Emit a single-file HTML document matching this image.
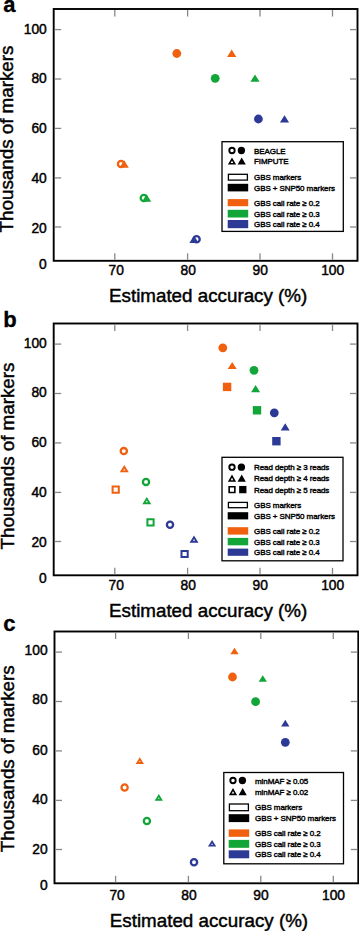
<!DOCTYPE html>
<html><head><meta charset="utf-8"><style>
html,body{margin:0;padding:0;background:#fff;width:359px;height:931px;overflow:hidden}
svg{display:block}
</style></head><body>
<svg width="359" height="931" viewBox="0 0 359 931">
<rect width="359" height="931" fill="#fff"/>
<rect x="53.7" y="9" width="303.8" height="251.8" fill="none" stroke="#000" stroke-width="1.9"/>
<line x1="114.8" y1="259.8" x2="114.8" y2="253.3" stroke="#888" stroke-width="1.3"/>
<line x1="114.8" y1="10" x2="114.8" y2="16.5" stroke="#888" stroke-width="1.3"/>
<line x1="187.6" y1="259.8" x2="187.6" y2="253.3" stroke="#888" stroke-width="1.3"/>
<line x1="187.6" y1="10" x2="187.6" y2="16.5" stroke="#888" stroke-width="1.3"/>
<line x1="260.0" y1="259.8" x2="260.0" y2="253.3" stroke="#888" stroke-width="1.3"/>
<line x1="260.0" y1="10" x2="260.0" y2="16.5" stroke="#888" stroke-width="1.3"/>
<line x1="332.5" y1="259.8" x2="332.5" y2="253.3" stroke="#888" stroke-width="1.3"/>
<line x1="332.5" y1="10" x2="332.5" y2="16.5" stroke="#888" stroke-width="1.3"/>
<line x1="54.7" y1="29.6" x2="61.2" y2="29.6" stroke="#888" stroke-width="1.3"/>
<line x1="356.5" y1="29.6" x2="350.0" y2="29.6" stroke="#888" stroke-width="1.3"/>
<line x1="54.7" y1="79.0" x2="61.2" y2="79.0" stroke="#888" stroke-width="1.3"/>
<line x1="356.5" y1="79.0" x2="350.0" y2="79.0" stroke="#888" stroke-width="1.3"/>
<line x1="54.7" y1="128.4" x2="61.2" y2="128.4" stroke="#888" stroke-width="1.3"/>
<line x1="356.5" y1="128.4" x2="350.0" y2="128.4" stroke="#888" stroke-width="1.3"/>
<line x1="54.7" y1="177.9" x2="61.2" y2="177.9" stroke="#888" stroke-width="1.3"/>
<line x1="356.5" y1="177.9" x2="350.0" y2="177.9" stroke="#888" stroke-width="1.3"/>
<line x1="54.7" y1="227.0" x2="61.2" y2="227.0" stroke="#888" stroke-width="1.3"/>
<line x1="356.5" y1="227.0" x2="350.0" y2="227.0" stroke="#888" stroke-width="1.3"/>
<text x="46.8" y="33.6" font-family="Liberation Sans, sans-serif" stroke="#000" font-size="13.8" stroke-width="0.45" text-anchor="end">100</text>
<text x="46.8" y="83.0" font-family="Liberation Sans, sans-serif" stroke="#000" font-size="13.8" stroke-width="0.45" text-anchor="end">80</text>
<text x="46.8" y="133.3" font-family="Liberation Sans, sans-serif" stroke="#000" font-size="13.8" stroke-width="0.45" text-anchor="end">60</text>
<text x="46.8" y="183.0" font-family="Liberation Sans, sans-serif" stroke="#000" font-size="13.8" stroke-width="0.45" text-anchor="end">40</text>
<text x="46.8" y="232.70000000000002" font-family="Liberation Sans, sans-serif" stroke="#000" font-size="13.8" stroke-width="0.45" text-anchor="end">20</text>
<text x="46.8" y="268.90000000000003" font-family="Liberation Sans, sans-serif" stroke="#000" font-size="13.8" stroke-width="0.45" text-anchor="end">0</text>
<text x="116.3" y="275.2" font-family="Liberation Sans, sans-serif" stroke="#000" font-size="13.8" stroke-width="0.45" text-anchor="middle">70</text>
<text x="188.2" y="275.2" font-family="Liberation Sans, sans-serif" stroke="#000" font-size="13.8" stroke-width="0.45" text-anchor="middle">80</text>
<text x="260.2" y="275.2" font-family="Liberation Sans, sans-serif" stroke="#000" font-size="13.8" stroke-width="0.45" text-anchor="middle">90</text>
<text x="332.7" y="275.2" font-family="Liberation Sans, sans-serif" stroke="#000" font-size="13.8" stroke-width="0.45" text-anchor="middle">100</text>
<text x="109.0" y="301.7" font-family="Liberation Sans, sans-serif" stroke="#000" font-size="18.8" stroke-width="0.45">Estimated accuracy (%)</text>
<text transform="translate(13.0,232.4) rotate(-90)" x="0" y="0" font-family="Liberation Sans, sans-serif" stroke="#000" font-size="18.8" stroke-width="0.45">Thousands of markers</text>
<text x="3.3" y="12.1" font-family="Liberation Sans, sans-serif" stroke="#000" font-size="22" font-weight="bold" stroke-width="0.3">a</text>
<circle cx="176.8" cy="53.5" r="4.4" fill="#F0600E"/>
<path d="M231.70,49.52 L227.10,56.88 L236.30,56.88 Z" fill="#F0600E"/>
<circle cx="215.2" cy="78.3" r="4.4" fill="#12A538"/>
<path d="M255.00,74.42 L250.40,81.78 L259.60,81.78 Z" fill="#12A538"/>
<circle cx="258.4" cy="119" r="4.4" fill="#2C3A95"/>
<path d="M284.50,115.22 L279.90,122.58 L289.10,122.58 Z" fill="#2C3A95"/>
<path d="M116.75,164.00 a4.25,4.25 0 1,0 8.50,0 a4.25,4.25 0 1,0 -8.50,0 Z M119.05,164.00 a1.95,1.95 0 1,0 3.90,0 a1.95,1.95 0 1,0 -3.90,0 Z" fill="#F0600E" fill-rule="evenodd"/>
<path d="M124.20,160.32 L119.60,167.68 L128.80,167.68 Z M124.20,163.90 L123.03,165.78 L125.37,165.78 Z" fill="#F0600E" fill-rule="evenodd"/>
<path d="M139.55,198.00 a4.25,4.25 0 1,0 8.50,0 a4.25,4.25 0 1,0 -8.50,0 Z M141.85,198.00 a1.95,1.95 0 1,0 3.90,0 a1.95,1.95 0 1,0 -3.90,0 Z" fill="#12A538" fill-rule="evenodd"/>
<path d="M146.60,194.32 L142.00,201.68 L151.20,201.68 Z M146.60,197.90 L145.43,199.78 L147.77,199.78 Z" fill="#12A538" fill-rule="evenodd"/>
<path d="M194.00,235.52 L189.40,242.88 L198.60,242.88 Z M194.00,239.10 L192.83,240.98 L195.17,240.98 Z" fill="#2C3A95" fill-rule="evenodd"/>
<path d="M192.35,239.30 a4.25,4.25 0 1,0 8.50,0 a4.25,4.25 0 1,0 -8.50,0 Z M194.65,239.30 a1.95,1.95 0 1,0 3.90,0 a1.95,1.95 0 1,0 -3.90,0 Z" fill="#2C3A95" fill-rule="evenodd"/>
<rect x="222" y="141.7" width="121.30000000000001" height="89.70000000000002" fill="#fff" stroke="#000" stroke-width="1.3"/>
<g transform="translate(0,0)">
<path d="M228.35,150.50 a3.65,3.65 0 1,0 7.30,0 a3.65,3.65 0 1,0 -7.30,0 Z M230.25,150.50 a1.75,1.75 0 1,0 3.50,0 a1.75,1.75 0 1,0 -3.50,0 Z" fill="#000" fill-rule="evenodd"/>
<circle cx="241.4" cy="150.5" r="3.65" fill="#000"/>
<text x="254" y="153.55" font-family="Liberation Sans, sans-serif" stroke="#000" font-size="8.0" stroke-width="0.4" letter-spacing="-0.08">BEAGLE</text>
<path d="M232.00,157.39 L227.90,164.61 L236.10,164.61 Z M232.00,160.63 L230.65,163.01 L233.35,163.01 Z" fill="#000" fill-rule="evenodd"/>
<path d="M241.70,157.39 L237.60,164.61 L245.80,164.61 Z" fill="#000"/>
<text x="254" y="164.05" font-family="Liberation Sans, sans-serif" stroke="#000" font-size="8.0" stroke-width="0.4" letter-spacing="-0.08">FIMPUTE</text>
<rect x="228.4" y="174.29999999999998" width="19" height="5.8" fill="#fff" stroke="#000" stroke-width="1.3"/>
<text x="254" y="180.25" font-family="Liberation Sans, sans-serif" stroke="#000" font-size="8.0" stroke-width="0.4" letter-spacing="-0.08">GBS markers</text>
<rect x="227.7" y="183.8" width="20.5" height="7.599999999999994" fill="#000"/>
<text x="254" y="190.65000000000003" font-family="Liberation Sans, sans-serif" stroke="#000" font-size="8.0" stroke-width="0.4" letter-spacing="-0.08">GBS + SNP50 markers</text>
<rect x="227.7" y="199.1" width="20.5" height="7.099999999999994" fill="#F0600E"/>
<text x="254" y="205.7" font-family="Liberation Sans, sans-serif" stroke="#000" font-size="8.0" stroke-width="0.4" letter-spacing="-0.08">GBS call rate &#8805; 0.2</text>
<rect x="227.7" y="209.8" width="20.5" height="7.699999999999989" fill="#12A538"/>
<text x="254" y="216.70000000000002" font-family="Liberation Sans, sans-serif" stroke="#000" font-size="8.0" stroke-width="0.4" letter-spacing="-0.08">GBS call rate &#8805; 0.3</text>
<rect x="227.7" y="220" width="20.5" height="8.199999999999989" fill="#2C3A95"/>
<text x="254" y="227.15" font-family="Liberation Sans, sans-serif" stroke="#000" font-size="8.0" stroke-width="0.4" letter-spacing="-0.08">GBS call rate &#8805; 0.4</text>
</g>
<rect x="53.7" y="323.5" width="303.8" height="251.79999999999995" fill="none" stroke="#000" stroke-width="1.9"/>
<line x1="114.8" y1="574.3" x2="114.8" y2="567.8" stroke="#888" stroke-width="1.3"/>
<line x1="114.8" y1="324.5" x2="114.8" y2="331.0" stroke="#888" stroke-width="1.3"/>
<line x1="187.6" y1="574.3" x2="187.6" y2="567.8" stroke="#888" stroke-width="1.3"/>
<line x1="187.6" y1="324.5" x2="187.6" y2="331.0" stroke="#888" stroke-width="1.3"/>
<line x1="260.0" y1="574.3" x2="260.0" y2="567.8" stroke="#888" stroke-width="1.3"/>
<line x1="260.0" y1="324.5" x2="260.0" y2="331.0" stroke="#888" stroke-width="1.3"/>
<line x1="332.5" y1="574.3" x2="332.5" y2="567.8" stroke="#888" stroke-width="1.3"/>
<line x1="332.5" y1="324.5" x2="332.5" y2="331.0" stroke="#888" stroke-width="1.3"/>
<line x1="54.7" y1="344.1" x2="61.2" y2="344.1" stroke="#888" stroke-width="1.3"/>
<line x1="356.5" y1="344.1" x2="350.0" y2="344.1" stroke="#888" stroke-width="1.3"/>
<line x1="54.7" y1="393.5" x2="61.2" y2="393.5" stroke="#888" stroke-width="1.3"/>
<line x1="356.5" y1="393.5" x2="350.0" y2="393.5" stroke="#888" stroke-width="1.3"/>
<line x1="54.7" y1="442.9" x2="61.2" y2="442.9" stroke="#888" stroke-width="1.3"/>
<line x1="356.5" y1="442.9" x2="350.0" y2="442.9" stroke="#888" stroke-width="1.3"/>
<line x1="54.7" y1="492.4" x2="61.2" y2="492.4" stroke="#888" stroke-width="1.3"/>
<line x1="356.5" y1="492.4" x2="350.0" y2="492.4" stroke="#888" stroke-width="1.3"/>
<line x1="54.7" y1="541.5" x2="61.2" y2="541.5" stroke="#888" stroke-width="1.3"/>
<line x1="356.5" y1="541.5" x2="350.0" y2="541.5" stroke="#888" stroke-width="1.3"/>
<text x="46.8" y="347.5" font-family="Liberation Sans, sans-serif" stroke="#000" font-size="13.8" stroke-width="0.45" text-anchor="end">100</text>
<text x="46.8" y="396.9" font-family="Liberation Sans, sans-serif" stroke="#000" font-size="13.8" stroke-width="0.45" text-anchor="end">80</text>
<text x="46.8" y="447.2" font-family="Liberation Sans, sans-serif" stroke="#000" font-size="13.8" stroke-width="0.45" text-anchor="end">60</text>
<text x="46.8" y="496.9" font-family="Liberation Sans, sans-serif" stroke="#000" font-size="13.8" stroke-width="0.45" text-anchor="end">40</text>
<text x="46.8" y="546.5999999999999" font-family="Liberation Sans, sans-serif" stroke="#000" font-size="13.8" stroke-width="0.45" text-anchor="end">20</text>
<text x="46.8" y="582.8" font-family="Liberation Sans, sans-serif" stroke="#000" font-size="13.8" stroke-width="0.45" text-anchor="end">0</text>
<text x="116.3" y="589.7" font-family="Liberation Sans, sans-serif" stroke="#000" font-size="13.8" stroke-width="0.45" text-anchor="middle">70</text>
<text x="188.2" y="589.7" font-family="Liberation Sans, sans-serif" stroke="#000" font-size="13.8" stroke-width="0.45" text-anchor="middle">80</text>
<text x="260.2" y="589.7" font-family="Liberation Sans, sans-serif" stroke="#000" font-size="13.8" stroke-width="0.45" text-anchor="middle">90</text>
<text x="332.7" y="589.7" font-family="Liberation Sans, sans-serif" stroke="#000" font-size="13.8" stroke-width="0.45" text-anchor="middle">100</text>
<text x="109.0" y="616.9" font-family="Liberation Sans, sans-serif" stroke="#000" font-size="18.8" stroke-width="0.45">Estimated accuracy (%)</text>
<text transform="translate(13.5,549.4) rotate(-90)" x="0" y="0" font-family="Liberation Sans, sans-serif" stroke="#000" font-size="18.8" stroke-width="0.45">Thousands of markers</text>
<text x="3.3" y="326.9" font-family="Liberation Sans, sans-serif" stroke="#000" font-size="22" font-weight="bold" stroke-width="0.3">b</text>
<circle cx="222.8" cy="347.8" r="4.4" fill="#F0600E"/>
<path d="M232.20,361.90 L227.70,369.10 L236.70,369.10 Z" fill="#F0600E"/>
<rect x="222.90" y="382.70" width="8.4" height="8.4" fill="#F0600E"/>
<circle cx="254" cy="370.3" r="4.4" fill="#12A538"/>
<path d="M255.60,385.00 L251.10,392.20 L260.10,392.20 Z" fill="#12A538"/>
<rect x="252.80" y="406.10" width="8.4" height="8.4" fill="#12A538"/>
<circle cx="274.3" cy="412.8" r="4.4" fill="#2C3A95"/>
<path d="M285.20,423.20 L280.70,430.40 L289.70,430.40 Z" fill="#2C3A95"/>
<rect x="272.20" y="437.00" width="8.4" height="8.4" fill="#2C3A95"/>
<path d="M119.55,451.10 a4.25,4.25 0 1,0 8.50,0 a4.25,4.25 0 1,0 -8.50,0 Z M121.85,451.10 a1.95,1.95 0 1,0 3.90,0 a1.95,1.95 0 1,0 -3.90,0 Z" fill="#F0600E" fill-rule="evenodd"/>
<path d="M124.30,465.10 L119.80,472.30 L128.80,472.30 Z M124.30,468.68 L123.23,470.40 L125.37,470.40 Z" fill="#F0600E" fill-rule="evenodd"/>
<path d="M111.60,485.50 h8.20 v8.20 h-8.20 Z M113.60,487.50 h4.20 v4.20 h-4.20 Z" fill="#F0600E" fill-rule="evenodd"/>
<path d="M141.75,481.90 a4.25,4.25 0 1,0 8.50,0 a4.25,4.25 0 1,0 -8.50,0 Z M144.05,481.90 a1.95,1.95 0 1,0 3.90,0 a1.95,1.95 0 1,0 -3.90,0 Z" fill="#12A538" fill-rule="evenodd"/>
<path d="M146.80,497.00 L142.30,504.20 L151.30,504.20 Z M146.80,500.58 L145.73,502.30 L147.87,502.30 Z" fill="#12A538" fill-rule="evenodd"/>
<path d="M146.40,518.20 h8.20 v8.20 h-8.20 Z M148.40,520.20 h4.20 v4.20 h-4.20 Z" fill="#12A538" fill-rule="evenodd"/>
<path d="M165.75,524.80 a4.25,4.25 0 1,0 8.50,0 a4.25,4.25 0 1,0 -8.50,0 Z M168.05,524.80 a1.95,1.95 0 1,0 3.90,0 a1.95,1.95 0 1,0 -3.90,0 Z" fill="#2C3A95" fill-rule="evenodd"/>
<path d="M194.00,535.50 L189.50,542.70 L198.50,542.70 Z M194.00,539.08 L192.93,540.80 L195.07,540.80 Z" fill="#2C3A95" fill-rule="evenodd"/>
<path d="M180.50,549.90 h8.20 v8.20 h-8.20 Z M182.50,551.90 h4.20 v4.20 h-4.20 Z" fill="#2C3A95" fill-rule="evenodd"/>
<rect x="222" y="457.3" width="121" height="103.49999999999994" fill="#fff" stroke="#000" stroke-width="1.3"/>
<g transform="translate(0,0)">
<path d="M228.35,467.20 a3.65,3.65 0 1,0 7.30,0 a3.65,3.65 0 1,0 -7.30,0 Z M230.25,467.20 a1.75,1.75 0 1,0 3.50,0 a1.75,1.75 0 1,0 -3.50,0 Z" fill="#000" fill-rule="evenodd"/>
<circle cx="241.4" cy="467.2" r="3.65" fill="#000"/>
<text x="254" y="470.25" font-family="Liberation Sans, sans-serif" stroke="#000" font-size="8.0" stroke-width="0.4" letter-spacing="-0.08">Read depth &#8805; 3 reads</text>
<path d="M232.00,474.59 L227.90,481.81 L236.10,481.81 Z M232.00,477.83 L230.65,480.21 L233.35,480.21 Z" fill="#000" fill-rule="evenodd"/>
<path d="M241.70,474.59 L237.60,481.81 L245.80,481.81 Z" fill="#000"/>
<text x="254" y="481.25" font-family="Liberation Sans, sans-serif" stroke="#000" font-size="8.0" stroke-width="0.4" letter-spacing="-0.08">Read depth &#8805; 4 reads</text>
<path d="M228.35,485.95 h7.30 v7.30 h-7.30 Z M229.95,487.55 h4.10 v4.10 h-4.10 Z" fill="#000" fill-rule="evenodd"/>
<rect x="239.15" y="485.95" width="7.3" height="7.3" fill="#000"/>
<text x="254" y="492.65000000000003" font-family="Liberation Sans, sans-serif" stroke="#000" font-size="8.0" stroke-width="0.4" letter-spacing="-0.08">Read depth &#8805; 5 reads</text>
<rect x="228.4" y="502.40000000000003" width="19" height="5.3" fill="#fff" stroke="#000" stroke-width="1.3"/>
<text x="254" y="508.1" font-family="Liberation Sans, sans-serif" stroke="#000" font-size="8.0" stroke-width="0.4" letter-spacing="-0.08">GBS markers</text>
<rect x="227.7" y="512.2" width="20.5" height="7.199999999999932" fill="#000"/>
<text x="254" y="518.8499999999999" font-family="Liberation Sans, sans-serif" stroke="#000" font-size="8.0" stroke-width="0.4" letter-spacing="-0.08">GBS + SNP50 markers</text>
<rect x="227.7" y="527.2" width="20.5" height="7.399999999999977" fill="#F0600E"/>
<text x="254" y="533.95" font-family="Liberation Sans, sans-serif" stroke="#000" font-size="8.0" stroke-width="0.4" letter-spacing="-0.08">GBS call rate &#8805; 0.2</text>
<rect x="227.7" y="537.9" width="20.5" height="7.399999999999977" fill="#12A538"/>
<text x="254" y="544.6499999999999" font-family="Liberation Sans, sans-serif" stroke="#000" font-size="8.0" stroke-width="0.4" letter-spacing="-0.08">GBS call rate &#8805; 0.3</text>
<rect x="227.7" y="548.6" width="20.5" height="7.199999999999932" fill="#2C3A95"/>
<text x="254" y="555.25" font-family="Liberation Sans, sans-serif" stroke="#000" font-size="8.0" stroke-width="0.4" letter-spacing="-0.08">GBS call rate &#8805; 0.4</text>
</g>
<rect x="54.5" y="631.5" width="303.8" height="251.79999999999995" fill="none" stroke="#000" stroke-width="1.9"/>
<line x1="115.6" y1="882.3" x2="115.6" y2="875.8" stroke="#888" stroke-width="1.3"/>
<line x1="115.6" y1="632.5" x2="115.6" y2="639.0" stroke="#888" stroke-width="1.3"/>
<line x1="188.4" y1="882.3" x2="188.4" y2="875.8" stroke="#888" stroke-width="1.3"/>
<line x1="188.4" y1="632.5" x2="188.4" y2="639.0" stroke="#888" stroke-width="1.3"/>
<line x1="260.8" y1="882.3" x2="260.8" y2="875.8" stroke="#888" stroke-width="1.3"/>
<line x1="260.8" y1="632.5" x2="260.8" y2="639.0" stroke="#888" stroke-width="1.3"/>
<line x1="333.3" y1="882.3" x2="333.3" y2="875.8" stroke="#888" stroke-width="1.3"/>
<line x1="333.3" y1="632.5" x2="333.3" y2="639.0" stroke="#888" stroke-width="1.3"/>
<line x1="55.5" y1="652.1" x2="62.0" y2="652.1" stroke="#888" stroke-width="1.3"/>
<line x1="357.3" y1="652.1" x2="350.8" y2="652.1" stroke="#888" stroke-width="1.3"/>
<line x1="55.5" y1="701.5" x2="62.0" y2="701.5" stroke="#888" stroke-width="1.3"/>
<line x1="357.3" y1="701.5" x2="350.8" y2="701.5" stroke="#888" stroke-width="1.3"/>
<line x1="55.5" y1="750.9" x2="62.0" y2="750.9" stroke="#888" stroke-width="1.3"/>
<line x1="357.3" y1="750.9" x2="350.8" y2="750.9" stroke="#888" stroke-width="1.3"/>
<line x1="55.5" y1="800.4" x2="62.0" y2="800.4" stroke="#888" stroke-width="1.3"/>
<line x1="357.3" y1="800.4" x2="350.8" y2="800.4" stroke="#888" stroke-width="1.3"/>
<line x1="55.5" y1="849.5" x2="62.0" y2="849.5" stroke="#888" stroke-width="1.3"/>
<line x1="357.3" y1="849.5" x2="350.8" y2="849.5" stroke="#888" stroke-width="1.3"/>
<text x="47.599999999999994" y="654.8" font-family="Liberation Sans, sans-serif" stroke="#000" font-size="13.8" stroke-width="0.45" text-anchor="end">100</text>
<text x="47.599999999999994" y="704.2" font-family="Liberation Sans, sans-serif" stroke="#000" font-size="13.8" stroke-width="0.45" text-anchor="end">80</text>
<text x="47.599999999999994" y="754.5" font-family="Liberation Sans, sans-serif" stroke="#000" font-size="13.8" stroke-width="0.45" text-anchor="end">60</text>
<text x="47.599999999999994" y="804.2" font-family="Liberation Sans, sans-serif" stroke="#000" font-size="13.8" stroke-width="0.45" text-anchor="end">40</text>
<text x="47.599999999999994" y="853.9" font-family="Liberation Sans, sans-serif" stroke="#000" font-size="13.8" stroke-width="0.45" text-anchor="end">20</text>
<text x="47.599999999999994" y="890.1" font-family="Liberation Sans, sans-serif" stroke="#000" font-size="13.8" stroke-width="0.45" text-anchor="end">0</text>
<text x="117.1" y="899.7" font-family="Liberation Sans, sans-serif" stroke="#000" font-size="13.8" stroke-width="0.45" text-anchor="middle">70</text>
<text x="189.0" y="899.7" font-family="Liberation Sans, sans-serif" stroke="#000" font-size="13.8" stroke-width="0.45" text-anchor="middle">80</text>
<text x="261.0" y="899.7" font-family="Liberation Sans, sans-serif" stroke="#000" font-size="13.8" stroke-width="0.45" text-anchor="middle">90</text>
<text x="333.5" y="899.7" font-family="Liberation Sans, sans-serif" stroke="#000" font-size="13.8" stroke-width="0.45" text-anchor="middle">100</text>
<text x="109.8" y="926.9" font-family="Liberation Sans, sans-serif" stroke="#000" font-size="18.8" stroke-width="0.45">Estimated accuracy (%)</text>
<text transform="translate(13.7,852.2) rotate(-90)" x="0" y="0" font-family="Liberation Sans, sans-serif" stroke="#000" font-size="18.8" stroke-width="0.45">Thousands of markers</text>
<text x="3.3" y="631.3" font-family="Liberation Sans, sans-serif" stroke="#000" font-size="22" font-weight="bold" stroke-width="0.3">c</text>
<path d="M234.50,647.73 L230.35,654.37 L238.65,654.37 Z" fill="#F0600E"/>
<circle cx="232.5" cy="677" r="4.4" fill="#F0600E"/>
<path d="M262.80,675.13 L258.65,681.77 L266.95,681.77 Z" fill="#12A538"/>
<circle cx="255.6" cy="701.7" r="4.4" fill="#12A538"/>
<path d="M285.30,719.83 L281.15,726.47 L289.45,726.47 Z" fill="#2C3A95"/>
<circle cx="285.3" cy="742.3" r="4.4" fill="#2C3A95"/>
<path d="M139.80,757.28 L135.65,763.92 L143.95,763.92 Z M139.80,760.68 L138.90,762.12 L140.70,762.12 Z" fill="#F0600E" fill-rule="evenodd"/>
<path d="M120.35,787.50 a4.25,4.25 0 1,0 8.50,0 a4.25,4.25 0 1,0 -8.50,0 Z M122.65,787.50 a1.95,1.95 0 1,0 3.90,0 a1.95,1.95 0 1,0 -3.90,0 Z" fill="#F0600E" fill-rule="evenodd"/>
<path d="M158.80,794.03 L154.65,800.67 L162.95,800.67 Z M158.80,797.43 L157.90,798.87 L159.70,798.87 Z" fill="#12A538" fill-rule="evenodd"/>
<path d="M142.65,821.00 a4.25,4.25 0 1,0 8.50,0 a4.25,4.25 0 1,0 -8.50,0 Z M144.95,821.00 a1.95,1.95 0 1,0 3.90,0 a1.95,1.95 0 1,0 -3.90,0 Z" fill="#12A538" fill-rule="evenodd"/>
<path d="M212.10,839.93 L207.95,846.57 L216.25,846.57 Z M212.10,843.33 L211.20,844.77 L213.00,844.77 Z" fill="#2C3A95" fill-rule="evenodd"/>
<path d="M189.75,862.30 a4.25,4.25 0 1,0 8.50,0 a4.25,4.25 0 1,0 -8.50,0 Z M192.05,862.30 a1.95,1.95 0 1,0 3.90,0 a1.95,1.95 0 1,0 -3.90,0 Z" fill="#2C3A95" fill-rule="evenodd"/>
<rect x="223.8" y="772.5" width="119.69999999999999" height="91.29999999999995" fill="#fff" stroke="#000" stroke-width="1.3"/>
<g transform="translate(1.0,0)">
<path d="M228.35,780.50 a3.65,3.65 0 1,0 7.30,0 a3.65,3.65 0 1,0 -7.30,0 Z M230.25,780.50 a1.75,1.75 0 1,0 3.50,0 a1.75,1.75 0 1,0 -3.50,0 Z" fill="#000" fill-rule="evenodd"/>
<circle cx="241.4" cy="780.5" r="3.65" fill="#000"/>
<text x="254" y="783.55" font-family="Liberation Sans, sans-serif" stroke="#000" font-size="8.0" stroke-width="0.4" letter-spacing="-0.08">minMAF &#8805; 0.05</text>
<path d="M232.00,787.99 L227.90,795.21 L236.10,795.21 Z M232.00,791.23 L230.65,793.61 L233.35,793.61 Z" fill="#000" fill-rule="evenodd"/>
<path d="M241.70,787.99 L237.60,795.21 L245.80,795.21 Z" fill="#000"/>
<text x="254" y="794.65" font-family="Liberation Sans, sans-serif" stroke="#000" font-size="8.0" stroke-width="0.4" letter-spacing="-0.08">minMAF &#8805; 0.02</text>
<rect x="228.4" y="804.0" width="19" height="6.699999999999977" fill="#fff" stroke="#000" stroke-width="1.3"/>
<text x="254" y="810.3999999999999" font-family="Liberation Sans, sans-serif" stroke="#000" font-size="8.0" stroke-width="0.4" letter-spacing="-0.08">GBS markers</text>
<rect x="227.7" y="814.2" width="20.5" height="7.899999999999977" fill="#000"/>
<text x="254" y="821.2" font-family="Liberation Sans, sans-serif" stroke="#000" font-size="8.0" stroke-width="0.4" letter-spacing="-0.08">GBS + SNP50 markers</text>
<rect x="227.7" y="829.4" width="20.5" height="7.399999999999977" fill="#F0600E"/>
<text x="254" y="836.1499999999999" font-family="Liberation Sans, sans-serif" stroke="#000" font-size="8.0" stroke-width="0.4" letter-spacing="-0.08">GBS call rate &#8805; 0.2</text>
<rect x="227.7" y="839.9" width="20.5" height="7.899999999999977" fill="#12A538"/>
<text x="254" y="846.8999999999999" font-family="Liberation Sans, sans-serif" stroke="#000" font-size="8.0" stroke-width="0.4" letter-spacing="-0.08">GBS call rate &#8805; 0.3</text>
<rect x="227.7" y="850.3" width="20.5" height="8.0" fill="#2C3A95"/>
<text x="254" y="857.3499999999999" font-family="Liberation Sans, sans-serif" stroke="#000" font-size="8.0" stroke-width="0.4" letter-spacing="-0.08">GBS call rate &#8805; 0.4</text>
</g>
</svg>
</body></html>
